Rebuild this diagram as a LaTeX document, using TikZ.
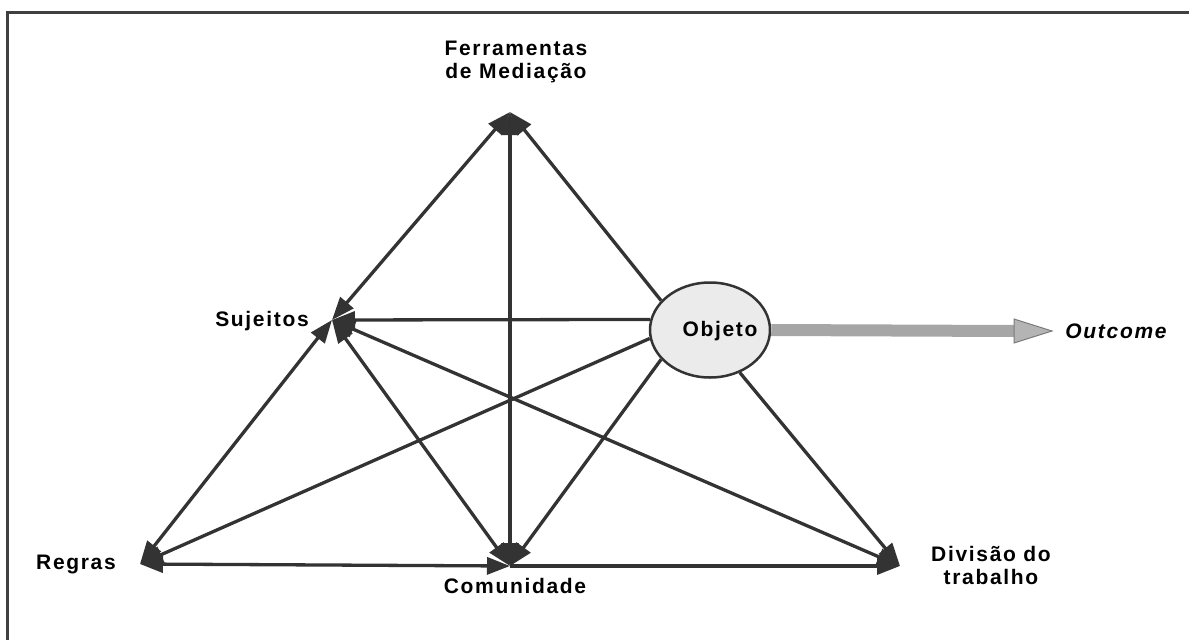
\documentclass[tikz,border=0pt]{standalone}
\usepackage{fontspec}
\setmainfont{Liberation Sans}
\usetikzlibrary{arrows.meta,shapes.geometric}
\definecolor{dk}{HTML}{333333}
\definecolor{frame}{HTML}{404040}
\definecolor{ellfill}{HTML}{EBEBEB}
\definecolor{shaft}{HTML}{A6A6A6}
\definecolor{headfill}{HTML}{B4B4B4}
\definecolor{headline}{HTML}{7A7A7A}
\tikzset{
  lab/.style={font=\fontsize{21}{23}\selectfont\bfseries\addfontfeature{LetterSpace=8}, text=black, align=center, inner sep=0pt},
  tip/.tip={Triangle[length=23pt,width=17pt]},
  rel2/.style={line width=3.3pt, draw=dk, tip-tip},
  rel1/.style={line width=3.3pt, draw=dk, -tip},
}
\begin{document}
\begin{tikzpicture}[x=1pt,y=-1pt]
\useasboundingbox (0,0) rectangle (1189,640);
% frame (top and left edges only)
\draw[frame, line width=3pt] (7,640) -- (7,12) -- (1189,12);

% vertex points
\coordinate (F) at (510,112);
\coordinate (S) at (332,320);
\coordinate (R) at (140,564);
\coordinate (C) at (510,566);
\coordinate (D) at (900,566);
\coordinate (T) at (1052,331);

% object ellipse
\node[ellipse, draw=dk, line width=2.5pt, fill=ellfill, minimum width=120pt, minimum height=95pt, inner sep=0pt] (O) at (710,330) {};
\node[lab] (objt) at (720,331) {Objeto};

% labels
\node[lab] (lf) at (516,62) {Ferramentas\\de Mediação};
\node[lab] (ls) at (262,321) {Sujeitos};
\node[lab] (lr) at (76,564) {Regras};
\node[lab] (lc) at (515,586) {Comunidade};
\node[lab] (ld) at (991,565) {Divisão do\\trabalho};
\node[lab, font=\fontsize{21}{23}\selectfont\bfseries\itshape\addfontfeature{LetterSpace=8}] (lo) at (1116,331) {Outcome};

% connectors
\draw[rel2] (S) -- (F);
\draw[rel2] (C) -- (F);
\draw[rel2] (S) -- (R);
\draw[rel2] (S) -- (C);
\draw[rel2] (S) -- (D);
\draw[rel2] (R) -- (C);
\draw[rel1] (C) -- (D);
\draw[rel1] (O.149) -- (F);
\draw[rel1] (O.170) -- (S);
\draw[rel1] (O.188) -- (R);
\draw[rel1] (O.211) -- (C);
\draw[rel1] (O.305) -- (D);

% outcome arrow
\draw[shaft, line width=12pt] (O.east) -- ([xshift=-38pt]T);
\draw[headline, fill=headfill, line width=1pt] ([xshift=-38pt,yshift=-12pt]T) -- (T) -- ([xshift=-38pt,yshift=12pt]T) -- cycle;
\end{tikzpicture}
\end{document}
